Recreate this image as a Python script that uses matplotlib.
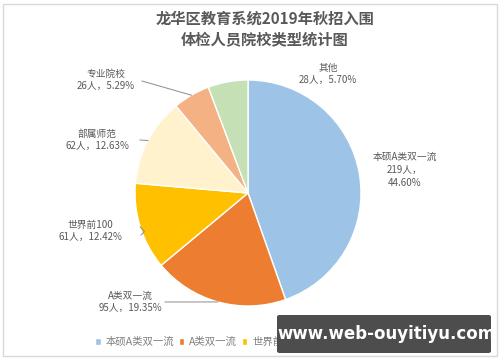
import numpy as np
import matplotlib
matplotlib.use("Agg")
from matplotlib import pyplot as plt
from matplotlib.patches import Rectangle, FancyBboxPatch

plt.rcParams['font.family'] = ['Noto Sans CJK SC', 'DejaVu Sans']

# data
categories = ['本硕A类双一流', 'A类双一流', '世界前100', '部属师范', '专业院校', '其他']
counts = [219, 95, 61, 62, 26, 28]
percents = ['44.60%', '19.35%', '12.42%', '12.63%', '5.29%', '5.70%']
colors = ['#9DC3E6', '#ED7D31', '#FFC000', '#FFF2CC', '#F4B183', '#C5E0B4']

W, H = 500, 362
fig = plt.figure(figsize=(5, 3.62), dpi=100)

# pie centre and radius in pixels
cx, cy, r = 248, 193, 113
ax = fig.add_axes([(cx - r) / W, (H - cy - r) / H, 2 * r / W, 2 * r / H])
wedges, _ = ax.pie(counts, colors=colors, startangle=90, counterclock=False,
                   radius=1, wedgeprops=dict(edgecolor='white', linewidth=1))
ax.set_xlim(-1, 1)
ax.set_ylim(-1, 1)
ax.set_aspect('equal')
ax.axis('off')

def px(x, y):
    # pixel position -> pie data coords
    return (x - cx) / r, (cy - y) / r

txt_color = '#595959'
# label positions (pixels) for each slice
label_pos = [(405, 170), (130, 302), (90, 231), (97, 140), (106, 80), (328, 74)]
for i, (name, n, p) in enumerate(zip(categories, counts, percents)):
    x, y = px(*label_pos[i])
    if i == 0:
        s = f'{name}\n{n}人，\n{p}'
    else:
        s = f'{name}\n{n}人，{p}'
    ax.text(x, y, s, ha='center', va='center', fontsize=7, color=txt_color,
            linespacing=1.35, clip_on=False)

# leader lines
def edge_point(w):
    a = np.deg2rad((w.theta1 + w.theta2) / 2)
    return np.cos(a), np.sin(a)

line_kw = dict(color='#8c8c8c', lw=0.7, clip_on=False)
ex, ey = edge_point(wedges[4])
sx, sy = px(142, 81)
ax.plot([sx, ex], [sy, ey], **line_kw)
ex, ey = edge_point(wedges[3])
sx, sy = px(140, 140)
ax.plot([sx, ex], [sy, ey], **line_kw)
ex, ey = edge_point(wedges[2])
sx, sy = px(141, 235)
ax.plot([sx, sx + 0.03, ex], [sy, sy + 0.03, ey], **line_kw)
ex, ey = edge_point(wedges[1])
sx, sy = px(165, 302)
ax.plot([sx, ex], [sy, ey], **line_kw)

# title
fig.text(265 / W, 1 - 29 / H, '龙华区教育系统2019年秋招入围\n体检人员院校类型统计图',
         ha='center', va='center', fontsize=11, fontweight='bold',
         color='#595959', linespacing=1.3)

# legend
fig.legend(wedges, categories, loc='center left', bbox_to_anchor=(95 / W, 1 - 342 / H),
           ncol=6, frameon=False, fontsize=7.5, handlelength=0.55, handleheight=0.55,
           handletextpad=0.45, columnspacing=0.45, labelcolor='#7f7f7f',
           borderpad=0, borderaxespad=0)

# frame
fig.add_artist(Rectangle((3 / W, 1 - 356 / H), 494 / W, 352 / H, transform=fig.transFigure,
                         fill=False, edgecolor='#d9d9d9', lw=1))

# watermark box
fig.add_artist(FancyBboxPatch((277 / W, 1 - 353 / H), 214 / W, 38 / H,
                              boxstyle='round,pad=0,rounding_size=0.005',
                              transform=fig.transFigure, facecolor='#4d4d4d',
                              edgecolor='none', zorder=20))
fig.text(386 / W, 1 - 334 / H, 'www.web-ouyitiyu.com', ha='center', va='center',
         fontsize=12, fontweight='bold', color='white', family='DejaVu Sans', zorder=21)

fig.savefig('out.png', dpi=100)
